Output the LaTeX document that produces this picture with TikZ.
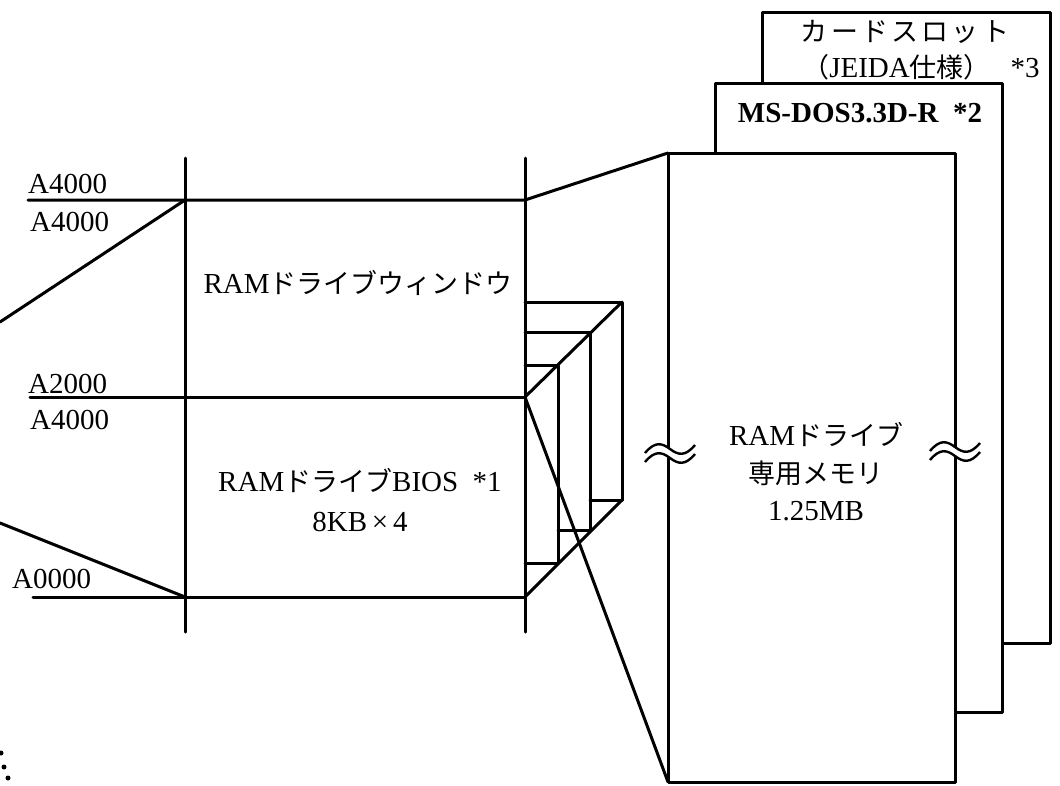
\documentclass[tikz,border=0pt]{standalone}
\usepackage{fontspec}
\setmainfont{Liberation Serif}
\newfontfamily\jp{Noto Sans CJK JP}[Scale=0.93]
\newfontfamily\jpwide{Noto Sans CJK JP}[Scale=0.93, LetterSpace=12]
\begin{document}
\begin{tikzpicture}[x=1pt,y=-1pt,
  ln/.style={line width=3pt, line cap=round, line join=round},
  pg/.style={ln, fill=white},
  lbl/.style={inner sep=0pt, font=\fontsize{29}{37.5}\selectfont}]
\useasboundingbox (0,0) rectangle (1060,785);
% key points
\coordinate (Lt) at (185,158); \coordinate (Lb) at (185,632);
\coordinate (Rt) at (525,158); \coordinate (Rb) at (525,632);
\coordinate (L1) at (185,200); \coordinate (R1) at (525,200);
\coordinate (L2) at (185,397); \coordinate (R2) at (525,397);
\coordinate (L3) at (185,597); \coordinate (R3) at (525,597);
\coordinate (h1) at (28,200); \coordinate (h2) at (30,397); \coordinate (h3) at (33,597);
\coordinate (e1) at (0,322); \coordinate (e2) at (0,523);
% stacked boxes on the right
\draw[pg] (762,12) rectangle (1050,643);
\draw[pg] (715,83) rectangle (1002,712);
\draw[pg] (668,153) rectangle (955,782);
\coordinate (FTL) at (668,153); \coordinate (FBL) at (668,782);
% left grid
\draw[ln] (Lt) -- (Lb);
\draw[ln] (Rt) -- (Rb);
\draw[ln] (h1) -- (R1) -- (FTL);
\draw[ln] (h2) -- (R2);
\draw[ln] (h3) -- (R3);
\draw[ln] (e1) -- (L1);
\draw[ln] (e2) -- (L3);
% small pages in perspective
\coordinate (P1) at (622,302); \coordinate (P2) at (622,500);
\draw[ln] (525,302) -- (P1) -- (P2) -- (590,500);
\draw[ln] (525,332) -- (590,332) -- (590,530) -- (558,530);
\draw[ln] (525,365) -- (558,365) -- (558,563) -- (525,563);
\draw[ln] (R2) -- (P1);
\draw[ln] (R3) -- (P2);
\draw[ln] (R2) -- (FBL);
% break marks
\foreach \bx/\by in {670/449, 955/447}{
  \begin{scope}[shift={(\bx,\by)}]
    \fill[white] (-25,4) .. controls (-15,-8) and (-8,-6) .. (0,0) .. controls (8,6) and (15,8) .. (25,-4)
      -- (25,5) .. controls (15,17) and (8,15) .. (0,9) .. controls (-8,3) and (-15,1) .. (-25,13) -- cycle;
    \draw[line width=2.4pt] (-25,4) .. controls (-15,-8) and (-8,-6) .. (0,0) .. controls (8,6) and (15,8) .. (25,-4);
    \draw[line width=2.4pt] (-25,13) .. controls (-15,1) and (-8,3) .. (0,9) .. controls (8,15) and (15,17) .. (25,5);
  \end{scope}}
% dots bottom left
\foreach \dx/\dy in {1/753, 4/767, 8/778}{\fill (\dx,\dy) circle (2.5);}
% labels
\node[lbl, anchor=base west] (a1) at (28,193) {A4000};
\node[lbl, anchor=base west] (a2) at (30,231) {A4000};
\node[lbl, anchor=base west] (a3) at (28,393) {A2000};
\node[lbl, anchor=base west] (a4) at (30,429) {A4000};
\node[lbl, anchor=base west] (a5) at (12,588) {A0000};
\node[lbl] (win) at (358,283) {RAM{\jp ドライブウィンドウ}};
\node[lbl, align=center, font=\fontsize{29}{40}\selectfont] (bios) at (360,500) {RAM{\jp ドライブ}BIOS\ \ *1\\8KB\,×\,4};
\node[lbl, align=center] (mem) at (816,472) {RAM{\jp ドライブ}\\{\jp 専用メモリ}\\1.25MB};
\node[lbl, font=\fontsize{29}{34}\selectfont\bfseries] (msdos) at (860,113) {MS-DOS3.3D-R\ \ *2};
\node[lbl] (card1) at (905,32) {\jpwide カードスロット};
\node[lbl] (card2) at (921,67) {{\jp （}JEIDA{\jp 仕様）}\hspace{20pt}*3};
\end{tikzpicture}
\end{document}
